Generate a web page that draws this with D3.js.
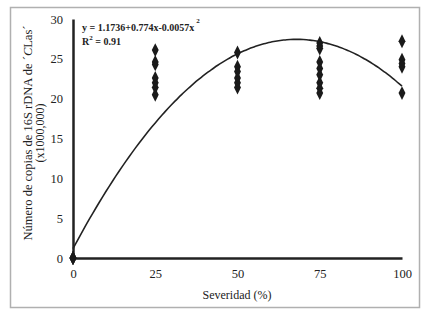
<!DOCTYPE html>
<html><head><meta charset="utf-8">
<script src="https://cdn.jsdelivr.net/npm/d3@7"></script>
<style>body{margin:0;background:#fff}svg{display:block}svg text{font-family:"Times New Roman","Liberation Serif",serif !important;fill:#222}</style>
</head><body><svg id="c" width="428" height="314"></svg>
<script>
const severity = [0, 25, 50, 75, 100];
const copies0 = [0, 0, 0, 0];
const copies25 = [26.1, 24.6, 24.3, 22.6, 22.0, 21.4, 20.5];
const copies50 = [25.8, 24.0, 23.4, 22.6, 22.0, 21.4];
const copies75 = [27.0, 26.6, 26.3, 24.6, 23.8, 23.0, 22.0, 21.3, 20.7];
const copies100 = [27.2, 24.9, 24.4, 24.0, 20.7];
const xTicks = [0, 25, 50, 75, 100];
const yTicks = [0, 5, 10, 15, 20, 25, 30];
const coef = [1.1736, 0.774, -0.0057]; // printed regression y = a + b x + c x^2

const groups = [copies0, copies25, copies50, copies75, copies100];
const points = [];
groups.forEach((g, i) => g.forEach(v => points.push({x: severity[i], y: v})));

const svg = d3.select("#c");
svg.append("rect").attr("x",10.5).attr("y",7.5).attr("width",409).attr("height",300)
  .attr("fill","#fff").attr("stroke","#b0b0b0").attr("stroke-width",1.5);

const x = d3.scaleLinear().domain([0,100]).range([73,402]);
const y = d3.scaleLinear().domain([0,30]).range([258,19]);

const SERIF = '"Times New Roman","Liberation Serif",serif';

// axes
const xa = svg.append("g").attr("transform","translate(0,258)")
  .call(d3.axisBottom(x).tickValues(xTicks).tickSize(0).tickPadding(11));
xa.attr("font-family", SERIF);
xa.select(".domain").attr("stroke","#222").attr("stroke-width",2.5);
xa.selectAll("text").attr("font-size",12.5).attr("fill","#222");
const ya = svg.append("g").attr("transform","translate(73,0)")
  .call(d3.axisLeft(y).tickValues(yTicks).tickSize(0).tickPadding(10));
ya.attr("font-family", SERIF);
ya.select(".domain").attr("stroke","#222").attr("stroke-width",2.5);
ya.selectAll("text").attr("font-size",12.5).attr("fill","#222");

// trend curve
const xs = d3.range(0, 100.5, 1);
const line = d3.line().x(d => x(d)).y(d => y(coef[0] + coef[1]*d + coef[2]*d*d)).curve(d3.curveBasis);
svg.append("path").datum(xs).attr("d", line).attr("fill","none").attr("stroke","#222").attr("stroke-width",1.6);

// points
const sym = d3.symbol().type(d3.symbolDiamond).size(46);
svg.append("g").selectAll("path").data(points).join("path")
  .attr("d", sym).attr("transform", d => `translate(${x(d.x)},${y(d.y)}) scale(0.95,1.1)`)
  .attr("fill","#1a1a1a");

// equation
const eq = svg.append("text").attr("x",82).attr("y",31).attr("font-size",10).attr("font-weight","bold");
eq.append("tspan").text("y = 1.1736+0.774x-0.0057x");
eq.append("tspan").attr("dx",2).attr("dy",-8).attr("font-size",7).text("2");
const r2 = svg.append("text").attr("x",82).attr("y",45).attr("font-size",10).attr("font-weight","bold");
r2.append("tspan").text("R");
r2.append("tspan").attr("dy",-5).attr("font-size",7).text("2");
r2.append("tspan").attr("dy",5).text(" = 0.91");

// axis titles
svg.append("text").attr("x",237).attr("y",299).attr("text-anchor","middle").attr("font-size",12).text("Severidad (%)");
const yt = svg.append("text").attr("transform","translate(32,133) rotate(-90)").attr("text-anchor","middle").attr("font-size",12.5);
yt.append("tspan").text("Número de copias de 16S rDNA de ´");
yt.append("tspan").attr("font-style","italic").text("C");
yt.append("tspan").text("Las´");
svg.append("text").attr("transform","translate(44,133) rotate(-90)").attr("text-anchor","middle").attr("font-size",12).text("(x1000,000)");
</script></body></html>
